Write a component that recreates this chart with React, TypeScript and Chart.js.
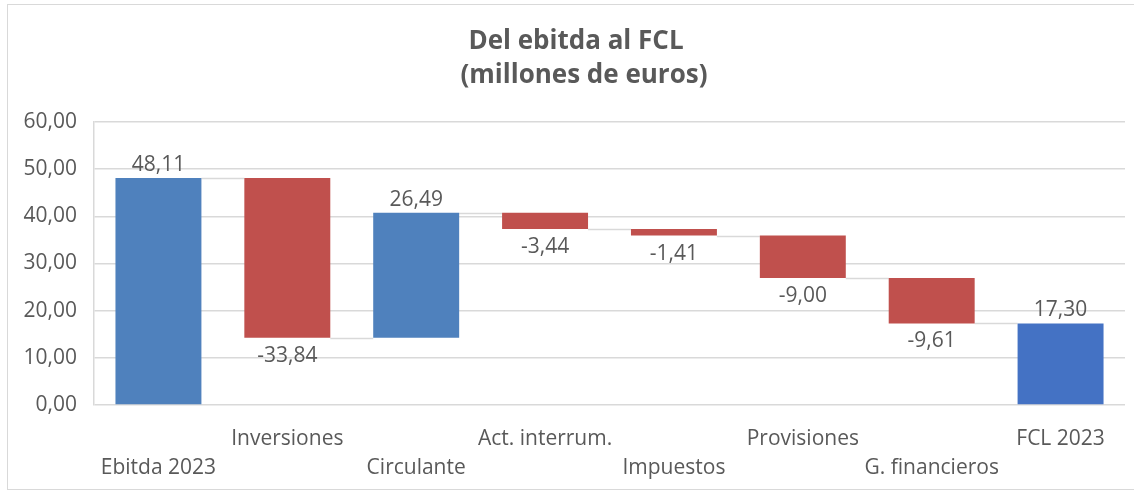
import React, { useEffect, useRef } from "react";
import { Chart, registerables } from "chart.js";

Chart.register(...registerables);

const categories = [
  "Ebitda 2023",
  "Inversiones",
  "Circulante",
  "Act. interrum.",
  "Impuestos",
  "Provisiones",
  "G. financieros",
  "FCL 2023",
];
const values = [48.11, -33.84, 26.49, -3.44, -1.41, -9.0, -9.61, 17.3];
const isTotal = [true, false, false, false, false, false, false, true];
const titleLines = ["Del ebitda al FCL", "(millones de euros)"];
const yMin = 0;
const yMax = 60;
const yStep = 10;

const fmt = (v: number) => v.toFixed(2).replace(".", ",");

export default function App() {
  const ref = useRef<HTMLCanvasElement>(null);

  useEffect(() => {
    if (!ref.current) return;
    let running = 0;
    const ranges: [number, number][] = values.map((v, i) => {
      if (isTotal[i]) {
        running = v;
        return [0, v];
      }
      const start = running;
      running += v;
      return [start, running];
    });
    const colors = values.map((v, i) =>
      i === values.length - 1 ? "#4472C4" : isTotal[i] || v >= 0 ? "#4F81BD" : "#C0504D"
    );
    const ticks = categories.map((c, i) => (i % 2 === 0 ? ["", c] : [c, ""]));
    const textColor = "#595959";
    const font = "'Open Sans', sans-serif";

    const connectors = {
      id: "connectors",
      beforeDatasetsDraw(chart: any) {
        const meta = chart.getDatasetMeta(0);
        const y = chart.scales.y;
        const ctx = chart.ctx;
        ctx.save();
        ctx.strokeStyle = "#D9D9D9";
        ctx.lineWidth = 1.5;
        for (let i = 0; i < ranges.length - 1; i++) {
          const a = meta.data[i];
          const b = meta.data[i + 1];
          const level = ranges[i][1];
          const py = Math.round(y.getPixelForValue(level)) + 0.5;
          ctx.beginPath();
          ctx.moveTo(a.x + a.width / 2, py);
          ctx.lineTo(b.x - b.width / 2, py);
          ctx.stroke();
        }
        ctx.restore();
      },
    };

    const dataLabels = {
      id: "dataLabels",
      afterDatasetsDraw(chart: any) {
        const meta = chart.getDatasetMeta(0);
        const ctx = chart.ctx;
        ctx.save();
        ctx.font = `21px ${font}`;
        ctx.fillStyle = textColor;
        ctx.textAlign = "center";
        ctx.textBaseline = "middle";
        meta.data.forEach((bar: any, i: number) => {
          const v = values[i];
          const top = Math.min(bar.y, bar.base);
          const bottom = Math.max(bar.y, bar.base);
          const py = v >= 0 ? top - 13 : bottom + 18;
          ctx.fillText(fmt(v), bar.x, py);
        });
        ctx.restore();
      },
    };

    const titlePlugin = {
      id: "customTitle",
      afterDraw(chart: any) {
        const ctx = chart.ctx;
        ctx.save();
        ctx.font = `bold 26px ${font}`;
        ctx.fillStyle = textColor;
        ctx.textAlign = "center";
        ctx.textBaseline = "middle";
        ctx.fillText(titleLines[0], 576, 42);
        ctx.fillText(titleLines[1], 584, 76);
        ctx.restore();
      },
    };

    const chart = new Chart(ref.current, {
      type: "bar",
      data: {
        labels: ticks as any,
        datasets: [
          {
            data: ranges as any,
            backgroundColor: colors,
            borderWidth: 0,
            borderSkipped: false,
            barPercentage: 0.667,
            categoryPercentage: 1,
          },
        ],
      },
      options: {
        responsive: false,
        animation: false,
        layout: { padding: { top: 122, right: 9, bottom: 0, left: 0 } },
        plugins: {
          legend: { display: false },
          tooltip: { enabled: false },
          title: { display: false },
        },
        scales: {
          x: {
            grid: { display: false, drawTicks: false },
            border: { display: false },
            ticks: {
              autoSkip: false,
              maxRotation: 0,
              minRotation: 0,
              padding: 20,
              color: textColor,
              font: { family: font, size: 21, lineHeight: 1.38 } as any,
            },
            afterFit(scale: any) {
              scale.height = 87;
            },
          },
          y: {
            min: yMin,
            max: yMax,
            grid: { color: "#D9D9D9", lineWidth: 1.5, drawTicks: false },
            border: { display: true, color: "#D9D9D9", width: 1.5 },
            ticks: {
              stepSize: yStep,
              padding: 17,
              color: textColor,
              font: { family: font, size: 21 },
              callback: (v: any) => fmt(Number(v)),
            },
            afterFit(scale: any) {
              scale.width = 94;
            },
          },
        },
      },
      plugins: [connectors, dataLabels, titlePlugin],
    });
    return () => chart.destroy();
  }, []);

  return (
    <div style={{ position: "absolute", left: 0, top: 0, width: 1134, height: 492, background: "#fff" }}>
      <div
        style={{
          position: "absolute",
          left: 7,
          top: 4,
          width: 1140,
          height: 484,
          border: "1px solid #D9D9D9",
        }}
      />
      <canvas ref={ref} width={1134} height={492} style={{ position: "absolute", left: 0, top: 0 }} />
    </div>
  );
}
